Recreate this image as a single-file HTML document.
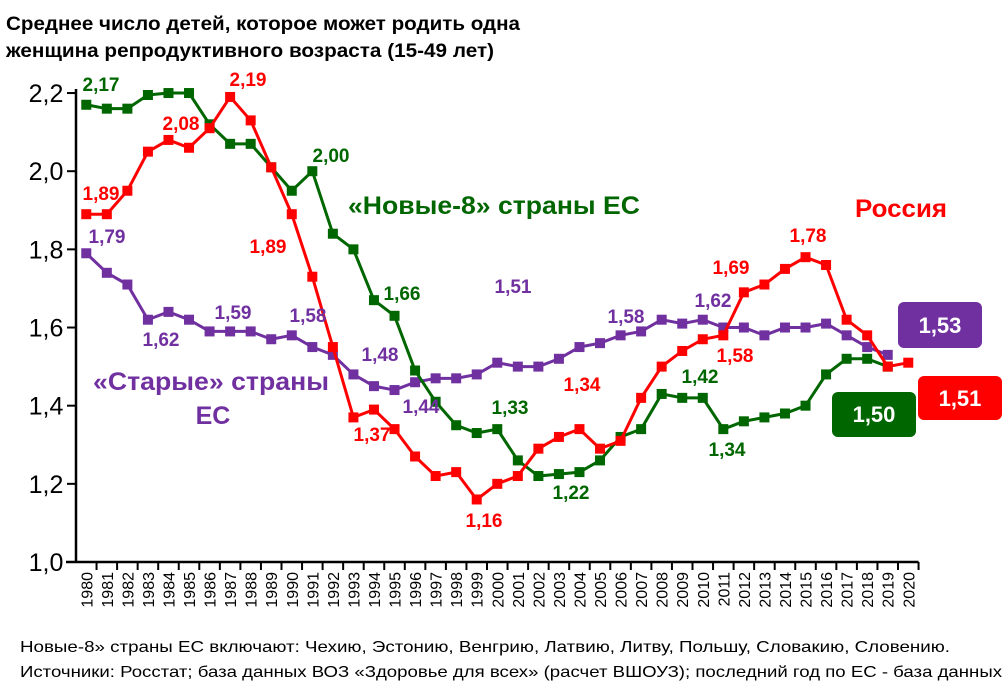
<!DOCTYPE html>
<html><head><meta charset="utf-8"><style>
body{margin:0;background:#fff;}
svg{display:block;font-family:"Liberation Sans",sans-serif;}
</style></head><body>
<svg id="chart" width="1004" height="693">
<text x="6" y="30" font-size="19" font-weight="bold" textLength="514" lengthAdjust="spacingAndGlyphs">Среднее число детей, которое может родить одна</text>
<text x="6" y="57" font-size="19" font-weight="bold" textLength="488" lengthAdjust="spacingAndGlyphs">женщина репродуктивного возраста (15-49 лет)</text>
<g id="axes"></g>
<g id="series"></g>
<g id="labels"></g>
<text x="348" y="214" font-size="25" font-weight="bold" fill="#006600" textLength="292" lengthAdjust="spacingAndGlyphs">«Новые-8» страны ЕС</text>
<text x="855" y="217" font-size="25" font-weight="bold" fill="#ff0000" textLength="92" lengthAdjust="spacingAndGlyphs">Россия</text>
<text x="93" y="390" font-size="25" font-weight="bold" fill="#7030a0" textLength="236" lengthAdjust="spacingAndGlyphs">«Старые» страны</text>
<text x="213" y="424" font-size="25" font-weight="bold" fill="#7030a0" text-anchor="middle">ЕС</text>
<rect x="898" y="302" width="84" height="46" rx="6" fill="#7030a0"/>
<text x="940" y="333" font-size="22" font-weight="bold" fill="#fff" text-anchor="middle">1,53</text>
<rect x="832" y="392" width="84" height="45" rx="6" fill="#006600"/>
<text x="874" y="422" font-size="22" font-weight="bold" fill="#fff" text-anchor="middle">1,50</text>
<rect x="918" y="376" width="84" height="44" rx="6" fill="#ff0000"/>
<text x="960" y="406" font-size="22" font-weight="bold" fill="#fff" text-anchor="middle">1,51</text>
<text x="20" y="652" font-size="16" textLength="930" lengthAdjust="spacingAndGlyphs">Новые-8» страны ЕС включают: Чехию, Эстонию, Венгрию, Латвию, Литву, Польшу, Словакию, Словению.</text>
<text x="20" y="677" font-size="16" textLength="982" lengthAdjust="spacingAndGlyphs">Источники: Росстат; база данных ВОЗ «Здоровье для всех» (расчет ВШОУЗ); последний год по ЕС - база данных</text>
</svg>
<script>
const years=[];for(let y=1980;y<=2020;y++)years.push(y);
const yTicks=[1.0,1.2,1.4,1.6,1.8,2.0,2.2];
const russia=[1.89,1.89,1.95,2.05,2.08,2.06,2.11,2.19,2.13,2.01,1.89,1.73,1.55,1.37,1.39,1.34,1.27,1.22,1.23,1.16,1.20,1.22,1.29,1.32,1.34,1.29,1.31,1.42,1.50,1.54,1.57,1.58,1.69,1.71,1.75,1.78,1.76,1.62,1.58,1.50,1.51];
const new8=[2.17,2.16,2.16,2.195,2.20,2.20,2.12,2.07,2.07,2.01,1.95,2.00,1.84,1.80,1.67,1.63,1.49,1.41,1.35,1.33,1.34,1.26,1.22,1.225,1.23,1.26,1.32,1.34,1.43,1.42,1.42,1.34,1.36,1.37,1.38,1.40,1.48,1.52,1.52,1.50];
const oldEu=[1.79,1.74,1.71,1.62,1.64,1.62,1.59,1.59,1.59,1.57,1.58,1.55,1.53,1.48,1.45,1.44,1.46,1.47,1.47,1.48,1.51,1.50,1.50,1.52,1.55,1.56,1.58,1.59,1.62,1.61,1.62,1.60,1.60,1.58,1.60,1.60,1.61,1.58,1.55,1.53];
const pointLabels=[["russia",1980,"1,89",101,200],["russia",1984,"2,08",181,130],["russia",1987,"2,19",248,86],["russia",1990,"1,89",268,253],["russia",1993,"1,37",372,441],["russia",1999,"1,16",484,527],["russia",2004,"1,34",582,391],["russia",2011,"1,58",735,362],["russia",2012,"1,69",731,274],["russia",2015,"1,78",808,242],
["new8",1980,"2,17",101,91],["new8",1991,"2,00",331,162],["new8",1995,"1,66",402,300],["new8",2000,"1,33",510,414],["new8",2003,"1,22",571,499],["new8",2009,"1,42",700,383],["new8",2011,"1,34",727,456],
["oldEu",1980,"1,79",107,243],["oldEu",1983,"1,62",161,346],["oldEu",1987,"1,59",233,319],["oldEu",1991,"1,58",308,322],["oldEu",1994,"1,48",380,361],["oldEu",1995,"1,44",421,413],["oldEu",2000,"1,51",513,293],["oldEu",2007,"1,58",626,323],["oldEu",2011,"1,62",713,307]];
const colors={russia:"#ff0000",new8:"#006600",oldEu:"#7030a0"};
const NS="http://www.w3.org/2000/svg";
const x0=76,step=20.55,yBase=562,pxPer=390.8;
const xs=i=>x0+step*(i+0.5);
const ys=v=>yBase-(v-1.0)*pxPer;
function mk(tag,attrs,parent){const e=document.createElementNS(NS,tag);for(const k in attrs)e.setAttribute(k,attrs[k]);parent.appendChild(e);return e;}
const ax=document.getElementById('axes');
let a=mk('line',{x1:x0,y1:ys(2.2)-4,x2:x0,y2:yBase,stroke:'#000','stroke-width':2.5},ax);


a=mk('line',{x1:x0-10,y1:yBase,x2:x0+step*41,y2:yBase,stroke:'#000','stroke-width':2.5},ax);


yTicks.forEach(t=>{
 const tk=mk('line',{x1:x0-9,y1:ys(t),x2:x0,y2:ys(t),stroke:'#000','stroke-width':2},ax);
 
 
 const tl=mk('text',{x:x0-30,y:ys(t)+9,'font-size':25,'text-anchor':'middle'},ax);
 tl.textContent=t.toFixed(1).replace('.',',');
 
 
});
years.forEach((yr,i)=>{
 const tk=mk('line',{x1:x0+step*(i+1),y1:yBase,x2:x0+step*(i+1),y2:yBase+8,stroke:'#000','stroke-width':2},ax);
 
 
 const cx=xs(i)+6,cy=572;
 const tl=mk('text',{x:cx,y:cy,'font-size':16,'text-anchor':'end',transform:`rotate(-90 ${cx} ${cy})`},ax);
 tl.textContent=yr;
 
 
});
const sg=document.getElementById('series');
[["oldEu",oldEu],["new8",new8],["russia",russia]].forEach(([key,data])=>{
 const pts=data.map((v,i)=>xs(i)+','+ys(v)).join(' ');
 const pl=mk('polyline',{points:pts,fill:'none',stroke:colors[key],'stroke-width':3},sg);
 
 
 data.forEach((v,i)=>{
  const r=mk('rect',{x:xs(i)-5,y:ys(v)-5,width:10,height:10,fill:colors[key]},sg);
  
  
 });
});
const lg=document.getElementById('labels');
pointLabels.forEach(([key,yr,txt,x,y])=>{
 const t=mk('text',{x:x,y:y,'font-size':19,'font-weight':'bold','text-anchor':'middle',fill:colors[key]},lg);
 t.textContent=txt;
 
 
});
</script>
</body></html>
